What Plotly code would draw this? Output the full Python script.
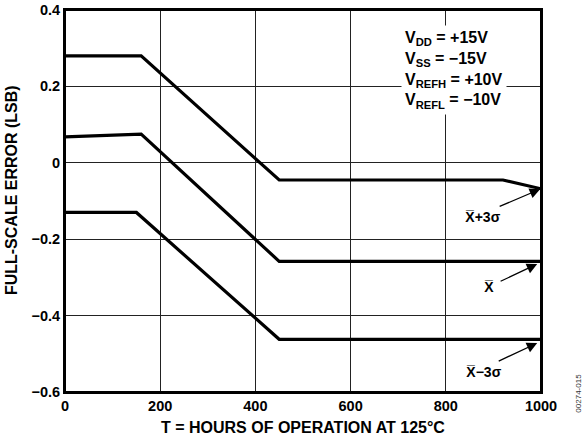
import plotly.graph_objects as go

hours_hi = [0, 160, 450, 920, 1000]
err_hi = [0.28, 0.28, -0.045, -0.045, -0.068]
hours_mid = [0, 160, 450, 1000]
err_mid = [0.068, 0.075, -0.258, -0.258]
hours_lo = [0, 150, 450, 1000]
err_lo = [-0.13, -0.13, -0.462, -0.462]

x_ticks = [0, 200, 400, 600, 800, 1000]
y_ticks = [-0.6, -0.4, -0.2, 0, 0.2, 0.4]
y_tick_text = ["\u22120.6", "\u22120.4", "\u22120.2", "0", "0.2", "0.4"]

FONT = "Liberation Sans, Arial, sans-serif"

fig = go.Figure()
for xs, ys in [(hours_hi, err_hi), (hours_mid, err_mid), (hours_lo, err_lo)]:
    fig.add_trace(go.Scatter(x=xs, y=ys, mode="lines",
                             line=dict(color="black", width=3.2), showlegend=False))

fig.update_layout(
    width=584, height=439,
    margin=dict(l=65, r=43, t=10, b=47, autoexpand=False),
    paper_bgcolor="white", plot_bgcolor="white",
    font=dict(family=FONT, size=14, color="black"),
    xaxis=dict(range=[0, 1000], tickvals=x_ticks, ticktext=[f"<b>{t}</b>" for t in x_ticks],
               showgrid=True, gridcolor="#222", automargin=False, ticklabeloverflow="allow",
               gridwidth=1, zeroline=False, showline=True, linecolor="black",
               linewidth=2, mirror=True, ticks="", tickfont=dict(size=14.5, family=FONT)),
    yaxis=dict(range=[-0.6, 0.4], tickvals=y_ticks, ticktext=[f"<b>{t}</b>" for t in y_tick_text],
               showgrid=True, gridcolor="#222", gridwidth=1, zeroline=False, showline=True,
               linecolor="black", linewidth=2, mirror=True, ticks="", automargin=False,
               ticklabeloverflow="allow", tickfont=dict(size=14.5, family=FONT)),
)

# plot frame
fig.add_shape(type="rect", xref="paper", yref="paper", x0=0, y0=0, x1=1, y1=1,
              line=dict(color="black", width=2), layer="above")

# axis titles
fig.add_annotation(x=0.5, y=-0.094, xref="paper", yref="paper", showarrow=False,
                   text="<b>T = HOURS OF OPERATION AT 125°C</b>", font=dict(size=16, family=FONT),
                   xanchor="center", yanchor="middle")
fig.add_annotation(x=-0.111, y=0.529, xref="paper", yref="paper", showarrow=False,
                   text="<b>FULL-SCALE ERROR (LSB)</b>", font=dict(size=16, family=FONT),
                   textangle=-90, xanchor="center", yanchor="middle")

legend_text = ("<b>V<sub>DD</sub> = +15V<br>V<sub>SS</sub> = \u221215V<br>"
               "V<sub>REFH</sub> = +10V<br>V<sub>REFL</sub> = \u221210V</b>")
fig.add_annotation(x=817, y=0.243, xref="x", yref="y", text=legend_text, showarrow=False,
                   align="left", bgcolor="white", font=dict(size=16, family=FONT),
                   borderpad=3)

labels = [("X\u0305+3\u03c3", 878, -0.142, 998, -0.069, 910, -0.116),
          ("X\u0305", 891, -0.325, 992, -0.265, 912, -0.312),
          ("X\u0305\u22123\u03c3", 880, -0.548, 992, -0.472, 908, -0.521)]
for txt, tx, ty, hx, hy, ax, ay in labels:
    fig.add_annotation(x=tx, y=ty, text=f"<b>{txt}</b>", showarrow=False,
                       font=dict(size=14, family=FONT))
    fig.add_annotation(x=hx, y=hy, ax=ax, ay=ay, axref="x", ayref="y", xref="x", yref="y",
                       text="", showarrow=True, arrowhead=2, arrowsize=1.6, arrowwidth=1.3,
                       arrowcolor="black")

fig.add_annotation(x=1.078, y=-0.004, xref="paper", yref="paper", text="00274-015",
                   showarrow=False, textangle=-90, xanchor="center", yanchor="middle",
                   font=dict(size=8, color="#333", family=FONT))

fig.write_html("out.html", config={"displayModeBar": False},
               post_script="document.body.style.margin='0';")
